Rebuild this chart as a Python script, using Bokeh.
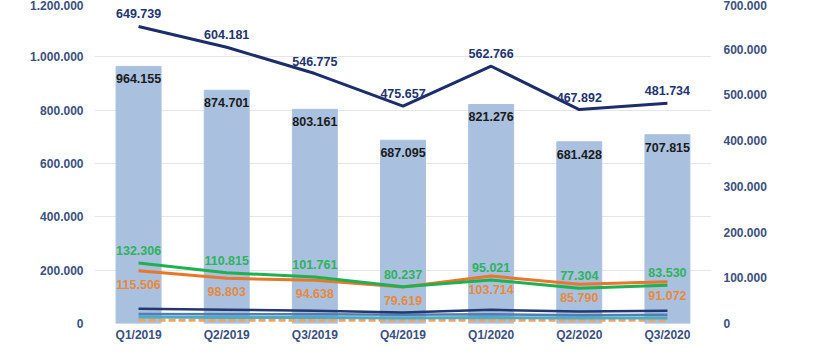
from bokeh.plotting import figure
from bokeh.models import Range1d, LinearAxis, FixedTicker, CustomJSTickFormatter, ColumnDataSource
from bokeh.core.properties import value
from bokeh.embed import file_html
from bokeh.resources import INLINE

categories = ["Q1/2019", "Q2/2019", "Q3/2019", "Q4/2019", "Q1/2020", "Q2/2020", "Q3/2020"]
bar_values = [964155, 874701, 803161, 687095, 821276, 681428, 707815]
navy_values = [649739, 604181, 546775, 475657, 562766, 467892, 481734]
green_values = [132306, 110815, 101761, 80237, 95021, 77304, 83530]
orange_values = [115506, 98803, 94638, 79619, 103714, 85790, 91072]
small_navy = [32000, 30000, 28000, 24000, 30000, 26000, 28000]
small_steel = [21000, 20000, 20000, 19000, 20000, 18000, 19000]
small_teal = [14000, 13000, 13000, 12000, 13000, 12000, 12000]
small_orange = [7000, 7000, 7000, 7000, 7000, 7000, 7000]
left_ticks = [0, 200000, 400000, 600000, 800000, 1000000, 1200000]
right_ticks = [0, 100000, 200000, 300000, 400000, 500000, 600000, 700000]


def fmt(v):
    return f"{v:,}".replace(",", ".")


FONT = "Liberation Sans"
AXIS_COLOR = "#3b4f80"

p = figure(width=804, height=344, x_range=categories, y_range=Range1d(0, 1200000),
           output_backend="svg", toolbar_location=None,
           min_border_left=94, min_border_right=93, min_border_top=3, min_border_bottom=0)
p.extra_y_ranges = {"right": Range1d(0, 700000)}
p.outline_line_color = None
p.background_fill_color = "white"

jsfmt = CustomJSTickFormatter(code="return Math.round(tick).toString().replace(/\\B(?=(\\d{3})+(?!\\d))/g, '.');")


def style_axis(a, standoff):
    a.axis_line_color = None
    a.major_tick_line_color = None
    a.minor_tick_line_color = None
    a.major_tick_out = 0
    a.major_tick_in = 0
    a.minor_tick_out = 0
    a.minor_tick_in = 0
    a.major_label_text_font = FONT
    a.major_label_text_font_style = "bold"
    a.major_label_text_font_size = "12px"
    a.major_label_text_color = AXIS_COLOR
    a.major_label_standoff = standoff


ax = p.yaxis[0]
ax.ticker = FixedTicker(ticks=left_ticks)
ax.formatter = jsfmt
style_axis(ax, 11)

rax = LinearAxis(y_range_name="right", ticker=FixedTicker(ticks=right_ticks), formatter=jsfmt)
style_axis(rax, 12)
p.add_layout(rax, "right")

xa = p.xaxis[0]
style_axis(xa, 4)

p.xgrid.grid_line_color = None
p.ygrid.grid_line_color = "#e6e6e6"
p.ygrid.grid_line_width = 1

src = ColumnDataSource(dict(
    cat=categories, bar=bar_values, navy=navy_values, green=green_values, orange=orange_values,
    sn=small_navy, ss=small_steel, st=small_teal, so=small_orange,
    bar_lbl=[fmt(v) for v in bar_values], navy_lbl=[fmt(v) for v in navy_values],
    green_lbl=[fmt(v) for v in green_values], orange_lbl=[fmt(v) for v in orange_values],
))

p.vbar(x="cat", top="bar", width=0.51, color="#a9c1df", source=src)

p.line(x="cat", y="so", y_range_name="right", line_color="#f5a25c", line_width=3, line_dash="7 3", source=src)
p.line(x="cat", y="st", y_range_name="right", line_color="#4bacc6", line_width=3, source=src)
p.line(x="cat", y="ss", y_range_name="right", line_color="#4f7fb5", line_width=2.5, source=src)
p.line(x="cat", y="sn", y_range_name="right", line_color="#24386e", line_width=2.5, source=src)

p.line(x="cat", y="orange", y_range_name="right", line_color="#e8762b", line_width=3, source=src)
p.line(x="cat", y="green", y_range_name="right", line_color="#1fb050", line_width=3, source=src)
p.line(x="cat", y="navy", y_range_name="right", line_color="#1c2d6b", line_width=3, source=src)

common = dict(text_font=value(FONT), text_font_style="bold", text_font_size="12.5px", text_align="center")
p.text(x="cat", y="bar", text="bar_lbl", text_baseline="top", y_offset=8, text_color="#1a1a1a", source=src, **common)
p.text(x="cat", y="navy", y_range_name="right", text="navy_lbl", text_baseline="bottom", y_offset=-8,
       text_color="#1f3370", source=src, **common)
p.text(x="cat", y="green", y_range_name="right", text="green_lbl", text_baseline="bottom", y_offset=-8,
       text_color="#2eb25c", source=src, **common)
p.text(x="cat", y="orange", y_range_name="right", text="orange_lbl", text_baseline="top", y_offset=9,
       text_color="#e8893c", source=src, **common)

open("out.html", "w").write(file_html(p, INLINE))
